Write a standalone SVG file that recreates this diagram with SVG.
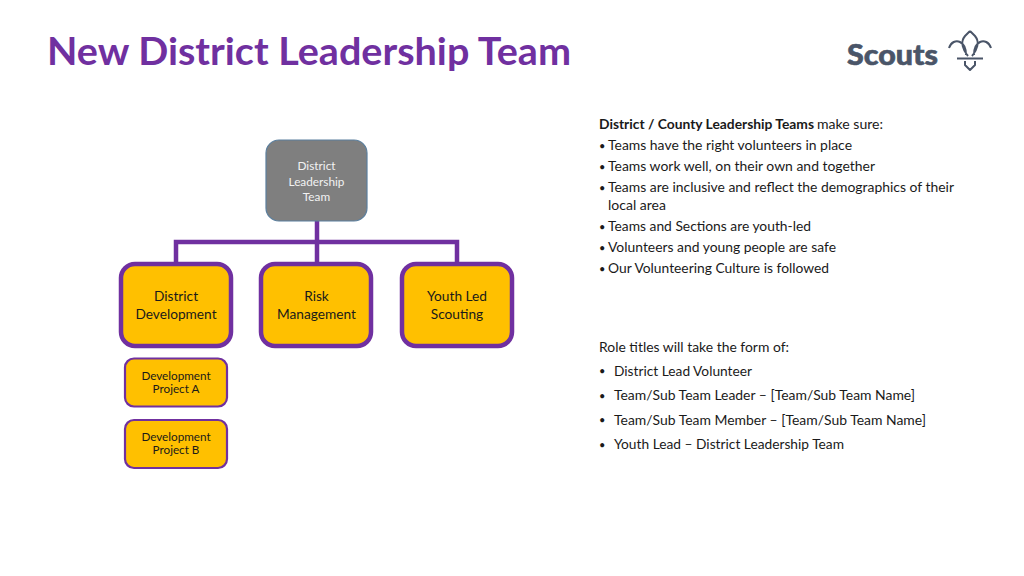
<svg xmlns="http://www.w3.org/2000/svg" width="1024" height="576" viewBox="0 0 1024 576">
<style>
text{font-family:"Lato","Open Sans","Liberation Sans",sans-serif}
.big{fill:#ffc000;stroke:#7030a0;stroke-width:4.5}
.small{fill:#ffc000;stroke:#7030a0;stroke-width:2.2}
.conn{fill:none;stroke:#7030a0;stroke-width:4.5}
.l{font-size:13.7px;fill:#1a1a1a;text-anchor:middle}
.s{font-size:11.7px;fill:#1a1a1a;text-anchor:middle}
.w{font-size:11.8px;fill:#f2f2f2;text-anchor:middle}
.b{font-size:13.8px;fill:#1a1a1a}
.d{font-size:11px;fill:#1a1a1a}
.logo{fill:none;stroke:#4a5568;stroke-width:2;stroke-linejoin:round}
</style>
<rect width="1024" height="576" fill="#fff"/>
<text x="47" y="65" font-size="38" font-weight="700" fill="#7030a0" textLength="524" lengthAdjust="spacingAndGlyphs">New District Leadership Team</text>
<g id="logo">
<text x="847" y="65" font-size="28" font-weight="900" fill="#4a5568" stroke="#4a5568" stroke-width="0.6" textLength="91" lengthAdjust="spacingAndGlyphs">Scouts</text>
<path class="logo" d="M970 31L975 36C980 42 977 50 972 56M970 31L965 36C960 42 963 50 968 56M949 48C951 42 956 40 960 42C964 44 966 49 966 55M991 48C989 42 984 40 980 42C976 44 974 49 974 55M957 58.500H983M965 61L965 65L970 70L975 65L975 61"/>
</g>
<g id="connectors">
<path class="conn" d="M317 221V264M176 264V242H457V264"/>
</g>
<g id="node-dlt">
<rect x="266" y="140" width="101" height="81" rx="13" fill="#7f7f7f" stroke="#5b7f9e" stroke-width="1.2"/>
<text class="w" x="316.500" y="170">District</text>
<text class="w" x="316.500" y="185.500">Leadership</text>
<text class="w" x="316.500" y="200.500">Team</text>
</g>
<g id="node-dd">
<rect class="big" x="121" y="264" width="110" height="82" rx="14"/>
<text class="l" x="176" y="300.500">District</text>
<text class="l" x="176" y="318.500">Development</text>
</g>
<g id="node-rm">
<rect class="big" x="261" y="264" width="110" height="82" rx="14"/>
<text class="l" x="316.500" y="300.500">Risk</text>
<text class="l" x="316.500" y="318.500">Management</text>
</g>
<g id="node-yls">
<rect class="big" x="402" y="264" width="110" height="82" rx="14"/>
<text class="l" x="457" y="300.500">Youth Led</text>
<text class="l" x="457" y="318.500">Scouting</text>
</g>
<g id="node-pa">
<rect class="small" x="125" y="358.500" width="102" height="48" rx="9"/>
<text class="s" x="176" y="380">Development</text>
<text class="s" x="176" y="392.500">Project A</text>
</g>
<g id="node-pb">
<rect class="small" x="125" y="420" width="102" height="48" rx="9"/>
<text class="s" x="176" y="441">Development</text>
<text class="s" x="176" y="454">Project B</text>
</g>
<g id="text-right">
<text class="b" x="599" y="129" font-weight="700" textLength="215" lengthAdjust="spacingAndGlyphs">District / County Leadership Teams</text>
<text class="b" x="817" y="129" textLength="66" lengthAdjust="spacingAndGlyphs">make sure:</text>
<text class="d" x="599" y="149.500">•</text><text class="b" x="608" y="150" textLength="244" lengthAdjust="spacingAndGlyphs">Teams have the right volunteers in place</text>
<text class="d" x="599" y="170.500">•</text><text class="b" x="608" y="171" textLength="267" lengthAdjust="spacingAndGlyphs">Teams work well, on their own and together</text>
<text class="d" x="599" y="191.500">•</text><text class="b" x="608" y="192" textLength="346" lengthAdjust="spacingAndGlyphs">Teams are inclusive and reflect the demographics of their</text>
<text class="b" x="608" y="210" textLength="58" lengthAdjust="spacingAndGlyphs">local area</text>
<text class="d" x="599" y="230.500">•</text><text class="b" x="608" y="231" textLength="203" lengthAdjust="spacingAndGlyphs">Teams and Sections are youth-led</text>
<text class="d" x="599" y="251.500">•</text><text class="b" x="608" y="252" textLength="228" lengthAdjust="spacingAndGlyphs">Volunteers and young people are safe</text>
<text class="d" x="599" y="272.500">•</text><text class="b" x="608" y="273" textLength="221" lengthAdjust="spacingAndGlyphs">Our Volunteering Culture is followed</text>
<text class="b" x="599" y="351.500" textLength="190" lengthAdjust="spacingAndGlyphs">Role titles will take the form of:</text>
<text class="d" x="599" y="375">•</text><text class="b" x="614" y="375.500" textLength="138" lengthAdjust="spacingAndGlyphs">District Lead Volunteer</text>
<text class="d" x="599" y="399.500">•</text><text class="b" x="614" y="400" textLength="301" lengthAdjust="spacingAndGlyphs">Team/Sub Team Leader – [Team/Sub Team Name]</text>
<text class="d" x="599" y="424">•</text><text class="b" x="614" y="424.500" textLength="312" lengthAdjust="spacingAndGlyphs">Team/Sub Team Member – [Team/Sub Team Name]</text>
<text class="d" x="599" y="448.500">•</text><text class="b" x="614" y="449" textLength="230" lengthAdjust="spacingAndGlyphs">Youth Lead – District Leadership Team</text>
</g>
</svg>
